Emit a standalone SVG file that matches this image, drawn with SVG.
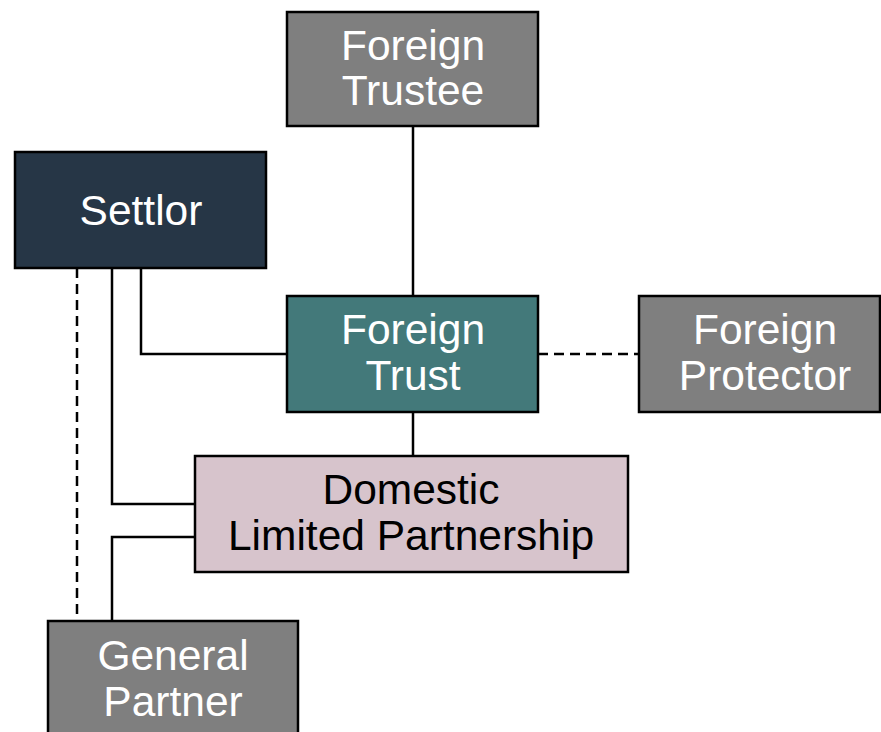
<svg xmlns="http://www.w3.org/2000/svg" width="881" height="732" viewBox="0 0 881 732">
  <style>
    .box { stroke: #000; stroke-width: 2.5; }
    .lbl { font-family: "Liberation Sans", Arial, sans-serif; font-size: 42.5px; text-anchor: middle; fill: #fff; }
    .dark { fill: #000; }
    .link { fill: none; stroke: #000; stroke-width: 2.5; }
    .dash { stroke-dasharray: 10 6; }
  </style>
  <rect width="881" height="732" fill="#fff"/>

  <g id="connectors">
    <line class="link" x1="413" y1="126" x2="413" y2="296"/>
    <polyline class="link" points="141,268 141,354 287,354"/>
    <polyline class="link" points="112,268 112,504 195,504"/>
    <polyline class="link" points="195,537 112,537 112,621"/>
    <line class="link dash" x1="77" y1="268" x2="77" y2="621"/>
    <line class="link dash" x1="538" y1="354" x2="639" y2="354"/>
    <line class="link" x1="413" y1="412" x2="413" y2="456"/>
  </g>

  <g id="foreign-trustee">
    <rect class="box" x="287" y="12" width="251" height="114" fill="#7f7f7f"/>
    <text class="lbl" x="413" y="60">Foreign</text>
    <text class="lbl" x="413" y="105">Trustee</text>
  </g>

  <g id="settlor">
    <rect class="box" x="15" y="152" width="251" height="116" fill="#263646"/>
    <text class="lbl" x="141" y="225">Settlor</text>
  </g>

  <g id="foreign-trust">
    <rect class="box" x="287" y="296" width="251" height="116" fill="#43797a"/>
    <text class="lbl" x="413" y="344">Foreign</text>
    <text class="lbl" x="413" y="390">Trust</text>
  </g>

  <g id="foreign-protector">
    <rect class="box" x="639" y="296" width="241" height="116" fill="#7f7f7f"/>
    <text class="lbl" x="765" y="344">Foreign</text>
    <text class="lbl" x="765" y="390">Protector</text>
  </g>

  <g id="domestic-lp">
    <rect class="box" x="195" y="456" width="433" height="116" fill="#d7c4cc"/>
    <text class="lbl dark" x="411" y="504">Domestic</text>
    <text class="lbl dark" x="411" y="550">Limited Partnership</text>
  </g>

  <g id="general-partner">
    <rect class="box" x="48" y="621" width="250" height="130" fill="#7f7f7f"/>
    <text class="lbl" x="173" y="670">General</text>
    <text class="lbl" x="173" y="716">Partner</text>
  </g>
</svg>
